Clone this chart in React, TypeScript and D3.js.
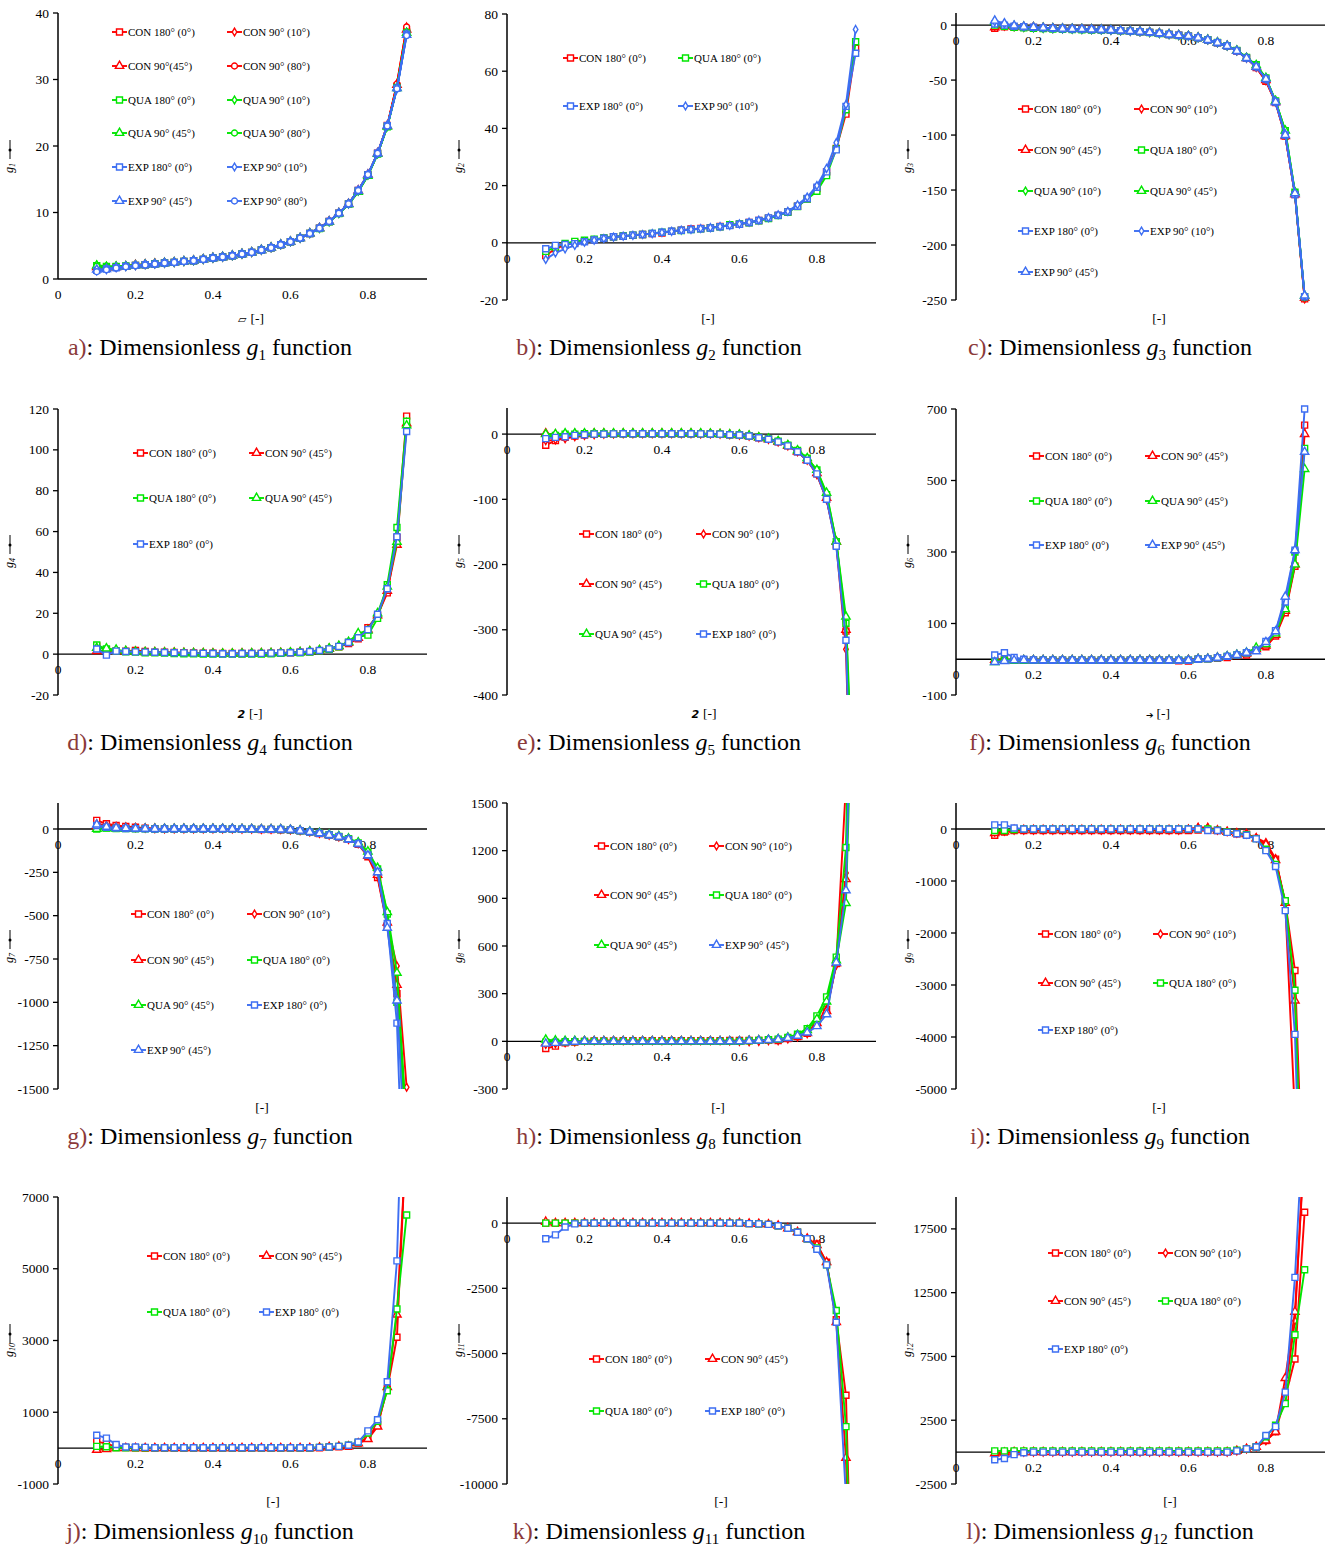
import React from 'react';
import * as d3 from 'd3';

// ---------------- DATA ----------------
const X = [0.1,0.125,0.15,0.175,0.2,0.225,0.25,0.275,0.3,0.325,0.35,0.375,0.4,0.425,0.45,0.475,0.5,0.525,0.55,0.575,0.6,0.625,0.65,0.675,0.7,0.725,0.75,0.775,0.8,0.825,0.85,0.875,0.9];
const X_TICKS = [0, 0.2, 0.4, 0.6, 0.8];
const X_TICK_LABELS = ['0', '0.2', '0.4', '0.6', '0.8'];

// g1
const G1_CON180 = [1.6,1.6,1.8,1.9,2.05,2.15,2.25, 2.4,2.5,2.65,2.75,2.95,3.15,3.3,3.5,3.75,4.0,4.35,4.7,5.15,5.6, 6.15,6.85,7.65,8.65,9.9,11.3,13.3,15.7,18.9,23.1,29.0,37.2];
const G1_CON10 = [1.7,1.7,1.8,1.95,2.05,2.2,2.3, 2.4,2.5,2.65,2.8,2.95,3.15,3.3,3.5,3.75,4.0,4.35,4.7,5.15,5.6, 6.15,6.85,7.65,8.7,9.9,11.35,13.3,15.7,18.9,23.1,29.4,37.9];
const G1_CON45 = [1.8,1.7,1.8,1.9,2.1,2.2,2.3, 2.4,2.5,2.65,2.75,2.95,3.15,3.3,3.5,3.75,4.0,4.35,4.7,5.15,5.6, 6.15,6.85,7.65,8.65,9.9,11.3,13.3,15.7,18.9,23.0,29.2,37.5];
const G1_CON80 = [1.9,1.8,1.85,1.95,2.1,2.2,2.3, 2.4,2.5,2.65,2.75,2.95,3.15,3.3,3.5,3.75,4.0,4.35,4.7,5.15,5.6, 6.15,6.85,7.65,8.65,9.9,11.3,13.3,15.7,18.9,23.0,29.3,37.9];
const G1_QUA180 = [2.0,1.9,1.9,1.95,2.05,2.15,2.3, 2.4,2.5,2.65,2.75,2.95,3.15,3.3,3.5,3.75,4.0,4.35,4.7,5.15,5.6, 6.15,6.85,7.6,8.6,9.85,11.3,13.2,15.6,18.8,22.9,28.8,37.0];
const G1_QUA10 = [2.1,1.9,1.9,1.95,2.1,2.2,2.3, 2.4,2.5,2.65,2.75,2.95,3.15,3.3,3.5,3.75,4.0,4.35,4.7,5.15,5.6, 6.15,6.85,7.6,8.6,9.85,11.3,13.2,15.6,18.8,22.9,28.8,37.1];
const G1_QUA45 = [2.0,1.8,1.85,1.9,2.05,2.15,2.25, 2.4,2.5,2.65,2.75,2.95,3.15,3.3,3.5,3.75,4.0,4.35,4.7,5.15,5.6, 6.15,6.85,7.6,8.6,9.85,11.2,13.1,15.5,18.8,22.9,28.7,37.0];
const G1_QUA80 = [1.9,1.8,1.8,1.9,2.05,2.15,2.25, 2.4,2.5,2.65,2.75,2.95,3.15,3.3,3.5,3.75,4.0,4.35,4.7,5.15,5.6, 6.15,6.85,7.6,8.6,9.85,11.3,13.2,15.6,18.8,22.9,28.8,37.1];
const G1_EXP180 = [1.3,1.5,1.7,1.9,2.05,2.15,2.25, 2.4,2.5,2.65,2.75,2.95,3.15,3.3,3.5,3.75,4.0,4.35,4.7,5.15,5.6, 6.15,6.85,7.65,8.65,9.9,11.3,13.3,15.7,18.9,23.05,28.7,36.8];
const G1_EXP10 = [1.2,1.4,1.7,1.85,2.0,2.15,2.25, 2.4,2.5,2.65,2.75,2.95,3.15,3.3,3.5,3.75,4.0,4.35,4.7,5.15,5.6, 6.15,6.85,7.65,8.65,9.9,11.3,13.3,15.7,18.9,23.05,28.6,36.9];
const G1_EXP45 = [1.4,1.5,1.75,1.9,2.05,2.15,2.25, 2.4,2.5,2.65,2.75,2.95,3.15,3.3,3.5,3.75,4.0,4.35,4.7,5.15,5.6, 6.15,6.85,7.65,8.65,9.9,11.3,13.3,15.7,18.9,23.05,28.7,36.7];
const G1_EXP80 = [1.1,1.4,1.65,1.85,2.0,2.1,2.25, 2.4,2.5,2.65,2.75,2.95,3.15,3.3,3.5,3.75,4.0,4.35,4.7,5.15,5.6, 6.15,6.85,7.65,8.65,9.9,11.3,13.3,15.7,18.9,23.0,28.6,36.6];

// g2
const G2_CON180 = [-4.5,-2.0,-0.8,0.0,0.5,1.1,1.6, 2.1,2.3,2.6,2.9,3.2,3.4,4.0,4.4,4.8,5.0,5.3,5.7,6.1,6.5, 7.1,7.8,8.6,9.6,10.8,12.8,15.4,19.0,24.8,33.0,45.0,68.0];
const G2_QUA180 = [-3.0,-1.5,-0.2,0.5,0.9,1.3,1.7, 2.1,2.4,2.7,2.9,3.3,3.7,4.0,4.3,4.6,4.9,5.2,5.6,6.3,6.6, 7.0,7.7,8.5,9.5,10.7,12.7,15.3,18.0,23.5,32.8,46.5,70.3];
const G2_EXP180 = [-2.1,-0.9,-0.6,-0.3,0.35,1.0,1.6, 2.1,2.3,2.7,2.9,3.25,3.7,4.05,4.4,4.65,4.9,5.2,5.6,6.0,6.5, 7.1,7.8,8.7,9.65,10.8,12.8,15.5,19.4,24.8,32.5,47.7,66.3];
const G2_EXP10 = [-5.8,-3.5,-2.1,-0.9,0.2,0.9,1.5, 2.0,2.3,2.6,2.9,3.2,3.6,4.0,4.4,4.7,5.0,5.3,5.7,6.1,6.6, 7.2,7.9,8.8,9.8,11.0,13.3,16.0,20.0,26.0,35.0,48.3,74.6];

// g3
const G3_CON180 = [-3,-1.5,-2,-2,-2.2,-2.6,-3, -3.3,-3.5,-3.7,-4,-4.2,-4.5,-5,-5.5,-6,-6.6,-7.5,-8.5,-9.3,-10, -11.5,-13.5,-16,-19,-23.5,-30,-38.5,-51,-70.5,-101,-154,-249];
const G3_CON10 = [-1,-1,-1.5,-1.8,-2,-2.5,-3, -3.3,-3.5,-3.7,-4,-4.2,-4.5,-5,-5.5,-6,-6.6,-7.5,-8.5,-9.3,-10, -11.5,-13.5,-16,-19,-23.5,-30,-38.5,-50.5,-70,-100,-153,-249];
const G3_CON45 = [-2,-1,-1.5,-1.8,-2,-2.5,-3, -3.3,-3.5,-3.7,-4,-4.2,-4.5,-5,-5.5,-6,-6.6,-7.5,-8.5,-9.3,-10, -11.5,-13.5,-16,-19,-23.5,-30,-38,-50,-70,-101,-154,-248];
const G3_QUA180 = [0,-1,-2,-2.5,-3,-3.2,-3.5, -3.8,-4,-4.2,-4.4,-4.6,-4.8,-5.2,-5.6,-6.1,-6.7,-7.6,-8.6,-9.4,-10, -11.5,-13.3,-15.8,-18.8,-23,-29.5,-36,-48,-69,-96,-152,-247];
const G3_QUA10 = [2,0,-1.5,-2,-2.5,-3,-3.2, -3.5,-3.7,-3.9,-4.1,-4.3,-4.6,-5,-5.5,-6,-6.6,-7.5,-8.5,-9.3,-10, -11.5,-13.4,-15.9,-18.9,-23.2,-29.7,-37,-48.5,-69.5,-97,-153,-247];
const G3_QUA45 = [3,0.5,-1,-1.8,-2.2,-2.6,-3, -3.3,-3.5,-3.7,-4,-4.2,-4.5,-5,-5.5,-6,-6.6,-7.5,-8.5,-9.3,-10, -11.5,-13.4,-15.9,-18.9,-23.2,-29.8,-36.5,-48,-69,-96,-152,-246];
const G3_EXP180 = [1,0,-1,-1.5,-2,-2.5,-3, -3.3,-3.5,-3.7,-4,-4.2,-4.5,-5,-5.5,-6,-6.6,-7.5,-8.5,-9.3,-10, -11.5,-13.5,-16,-19,-23.5,-30,-38,-49,-70,-100,-154,-247];
const G3_EXP10 = [3,1,-0.5,-1.5,-2,-2.5,-3, -3.3,-3.5,-3.7,-4,-4.2,-4.5,-5,-5.5,-6,-6.6,-7.5,-8.5,-9.3,-10, -11.5,-13.5,-16,-19,-23.5,-30,-38,-49,-70,-99,-153,-246];
const G3_EXP45 = [4,1.5,-0.5,-1.5,-2,-2.5,-3, -3.3,-3.5,-3.7,-4,-4.2,-4.5,-5,-5.5,-6,-6.6,-7.5,-8.5,-9.3,-10, -11.5,-13.5,-16,-19,-23.5,-30,-38,-49,-70,-100,-153,-246];

// g4
const G4_CON180 = [4.0,2.0,1.6,1.5,1.8,1.3,1.0, 0.9,0.8,0.7,0.6,0.5,0.5,0.3,0.3,0.3,0.4,0.4,0.5,0.6,0.7, 0.9,1.2,1.7,2.5,3.6,5.2,7.5,13.0,19.0,30.0,57.0,116.5];
const G4_CON45 = [1.5,1.8,1.5,1.3,1.2,1.0,0.9, 0.8,0.7,0.6,0.5,0.4,0.3,0.2,0.2,0.3,0.3,0.4,0.5,0.6,0.7, 0.9,1.3,1.8,2.6,3.8,5.5,8.0,12.0,19.0,31.0,53.5,113.0];
const G4_QUA180 = [4.5,2.5,1.5,1.2,1.0,0.7,0.6, 0.5,0.3,0.2,0.2,0.1,0.1,0.0,0.0,0.1,0.1,0.1,0.2,0.4,0.8, 0.7,1.0,1.6,2.4,3.6,5.8,8.5,9.3,17.5,34.0,62.0,114.0];
const G4_QUA45 = [3.0,2.8,2.2,1.5,1.2,1.0,0.8, 0.7,0.6,0.5,0.4,0.3,0.2,0.2,0.2,0.2,0.3,0.3,0.4,0.5,0.7, 0.9,1.3,1.9,2.8,4.0,6.0,10.2,11.5,20.0,33.0,55.0,112.0];
const G4_EXP180 = [2.5,-0.5,1.5,1.3,1.1,1.0,0.9, 0.8,0.7,0.6,0.5,0.4,0.3,0.2,0.2,0.3,0.3,0.4,0.5,0.6,0.7, 0.9,1.3,1.8,2.6,3.8,5.7,8.0,12.0,19.5,32.0,57.5,109.0];

// g5
const G5_CON180 = [-17,-10,-5,-3,-1.5,-0.5,0, 0.3,0.5,0.5,0.5,0.5,0.5,0.5,0.5,0.5,0.3,0.2,0,-1,-1.5, -3,-5.5,-8,-12,-18,-27,-40,-61,-100,-170,-302,-800];
const G5_CON10 = [-10,-9,-7,-4,-2,-1,0, 0.3,0.5,0.5,0.5,0.5,0.5,0.5,0.5,0.5,0.3,0.2,0,-1,-1.5, -3,-5.5,-8,-12,-18,-27,-40,-62,-100,-168,-330,-850];
const G5_CON45 = [1,-1,-1,0,0,0.5,0.5, 0.3,0.5,0.5,0.5,0.5,0.5,0.5,0.5,0.5,0.3,0.2,0,-1,-1.5, -3,-5.5,-8,-12,-18,-27,-40,-60,-98,-165,-300,-780];
const G5_QUA180 = [-4,-2,0,0,0.5,0.5,0.5, 0.3,0.5,0.5,0.5,0.5,0.5,0.5,0.5,0.5,0.3,0.2,0,-1,-1.5, -3,-5,-7.5,-11,-17,-25,-37,-55,-93,-165,-290,-700];
const G5_QUA45 = [0,0,1,1,1,1,1, 1,1,1,1,1,1,1,1,1,1,0.5,0,-0.5,-1, -2.5,-5,-7,-11,-17,-25,-37,-55,-90,-165,-280,-650];
const G5_EXP180 = [-7,-5,-4,-2,-1,0,0, 0.3,0.5,0.5,0.5,0.5,0.5,0.5,0.5,0.5,0.3,0.2,0,-1,-1.5, -3,-5.5,-8,-12,-18,-27,-40,-61,-100,-172,-316,-850];

// g6
const G6_CON180 = [0,-2,-3,-2,-3,-3,-3, -3,-3,-3,-3,-3,-3,-3,-3,-3,-2,-3,-3,-4,-5, 0,1,3,5,10,12,25,35,65,130,260,655];
const G6_CON45 = [-2,-2,-3,-3,-3,-3,-3, -3,-3,-3,-3,-3,-3,-3,-3,-3,-3,-3,-3,-3,-2, 0,1,4,7,11,16,28,38,68,135,265,630];
const G6_QUA180 = [-5,-3,-3,-3,-3,-3,-3, -3,-3,-3,-3,-3,-3,-3,-3,-3,-3,-3,-3,-3,-3, 0,1,4,8,12,18,25,45,78,145,300,590];
const G6_QUA45 = [-8,-2,-3,-3,-3,-3,-3, -3,-3,-3,-3,-3,-3,-3,-3,-3,-3,-3,-3,-3,-3, 0,1,4,8,12,18,32,42,72,140,265,532];
const G6_EXP180 = [12,18,5,0,-2,-3,-3, -3,-3,-3,-3,-3,-3,-3,-3,-3,-3,-3,-3,-3,-3, 0,1,4,8,12,18,25,50,80,160,305,700];
const G6_EXP45 = [-8,-5,-3,-3,-3,-3,-3, -3,-3,-3,-3,-3,-3,-3,-3,-3,-3,-3,-3,-3,-3, 0,1,4,8,12,18,22,48,78,175,305,580];

// g7
const G7_CON180 = [50,30,20,15,10,5,2, 0,-1,-1,-1,-1,-1,-1,-1,-2,-2,-3,-3,-4,-6, -11,-18,-26,-36,-46,-60,-88,-160,-280,-560,-950,-1700];
const G7_CON10 = [30,20,15,12,8,5,2, 1,0,0,0,0,0,0,0,-1,-1,-2,-2,-3,-5, -10,-17,-25,-35,-46,-60,-85,-150,-270,-550,-790,-1490];
const G7_CON45 = [15,10,6,4,3,2,1, 0,0,0,0,0,0,0,0,-1,-1,-2,-2,-3,-5, -10,-17,-25,-35,-45,-60,-85,-155,-265,-540,-900,-1800];
const G7_QUA180 = [0,5,3,2,1,1,0, 0,0,0,0,0,0,0,0,-1,-1,-2,-2,-3,-5, -10,-16,-24,-33,-43,-56,-80,-135,-230,-490,-1000,-1750];
const G7_QUA45 = [0,3,2,1,1,0,0, 0,0,0,0,0,0,0,0,-1,-1,-2,-2,-3,-5, -9,-15,-23,-32,-42,-55,-78,-130,-225,-480,-830,-1710];
const G7_EXP180 = [20,10,5,3,2,1,0, 0,0,0,0,0,0,0,0,-1,-1,-2,-2,-3,-5, -10,-17,-25,-35,-45,-60,-85,-150,-245,-545,-1120,-2700];
const G7_EXP45 = [25,12,6,4,2,1,0, 0,0,0,0,0,0,0,0,-1,-1,-2,-2,-3,-5, -10,-17,-25,-35,-45,-60,-86,-152,-250,-570,-990,-2050];

// g8
const G8_CON180 = [-45,-30,-10,-5,0,2,3, 3,4,4,4,4,4,4,4,4,4,4,4,5,5, 5,6,8,5,18,30,50,120,200,490,1620,5000];
const G8_CON10 = [-20,-15,-8,-3,5,5,5, 5,5,5,5,5,5,5,5,5,5,5,4,2,0, -2,0,5,5,15,28,48,110,200,480,1060,3500];
const G8_CON45 = [-10,-8,-5,-2,0,0,0, 0,0,0,0,0,0,0,0,0,0,0,0,0,0, 2,5,8,10,18,30,52,115,190,490,1020,3200];
const G8_QUA180 = [-5,-5,-3,-2,0,0,0, 0,0,0,0,0,0,0,0,0,0,0,0,0,0, 3,6,10,14,25,45,80,160,280,530,1220,4200];
const G8_QUA45 = [10,5,3,2,1,0,0, 0,0,0,0,0,0,0,0,0,0,0,0,0,0, 2,5,9,13,24,40,70,140,250,510,870,3000];
const G8_EXP45 = [-15,-10,-7,-3,0,0,0, 0,0,0,0,0,0,0,0,0,0,0,0,0,0, 2,5,8,12,20,35,55,95,170,496,950,3500];

// g9
const G9_CON180 = [-120,-60,-30,-30,-30,-30,-30, -30,-30,-30,-30,-30,-30,-30,-30,-30,-30,-30,-30,-30,-30, -20,-20,-30,-60,-90,-100,-180,-320,-580,-1400,-2720,-8000];
const G9_CON10 = [-60,-40,-20,-20,-20,-20,-20, -20,-20,-20,-20,-20,-20,-20,-20,-20,-20,-20,-20,-20,0, 30,30,-20,-50,-80,-100,-170,-260,-570,-1450,-5500,-12000];
const G9_CON45 = [-80,-50,-20,-20,-20,-20,-20, -20,-20,-20,-20,-20,-20,-20,-20,-20,-20,-20,-20,-20,-20, 10,10,-30,-55,-85,-100,-180,-300,-600,-1420,-3300,-9000];
const G9_QUA180 = [-30,-30,-10,0,0,0,0, 0,0,0,0,0,0,0,0,0,0,0,0,0,0, 0,0,-25,-55,-85,-110,-185,-390,-680,-1380,-3100,-9000];
const G9_EXP180 = [80,80,20,0,0,0,0, 0,0,0,0,0,0,0,0,0,0,0,0,0,0, 0,-30,-30,-64,-90,-120,-190,-415,-720,-1570,-3950,-10000];

// g10
const G10_CON180 = [190,120,50,20,10,5,0, 0,0,0,0,0,0,0,0,0,0,0,0,0,0, 0,0,10,25,40,50,140,300,650,1650,3090,9000];
const G10_CON45 = [-50,-30,0,0,0,0,0, 0,0,0,0,0,0,0,0,0,0,0,0,0,0, 0,0,10,25,40,50,130,250,600,1700,3720,8800];
const G10_QUA180 = [50,40,10,10,10,10,10, 10,10,10,10,10,10,10,10,10,10,10,10,10,10, 10,10,20,30,50,80,160,420,750,1600,3880,6500];
const G10_EXP180 = [360,280,100,30,30,20,10, 10,10,10,10,10,10,10,10,10,10,10,10,10,10, 10,10,20,30,50,80,170,480,790,1850,5220,14000];

// g11
const G11_CON180 = [0,0,0,0,0,0,0, 0,0,0,0,0,0,0,0,0,0,0,0,0,0, -20,-30,-50,-100,-200,-350,-600,-800,-1500,-3700,-6600,-20000];
const G11_CON45 = [50,0,0,0,0,0,0, 0,0,0,0,0,0,0,0,0,0,0,0,0,0, -20,-30,-50,-100,-200,-350,-600,-850,-1500,-3800,-9000,-22000];
const G11_QUA180 = [0,0,0,0,0,0,0, 0,0,0,0,0,0,0,0,0,0,0,0,0,0, -20,-30,-50,-100,-200,-350,-600,-950,-1600,-3350,-7800,-20000];
const G11_EXP180 = [-600,-450,-150,-30,0,0,0, 0,0,0,0,0,0,0,0,0,0,0,0,0,0, -20,-30,-50,-100,-200,-350,-600,-1000,-1600,-3800,-10500,-25000];

// g12
const G12_CON180 = [-100,0,0,0,0,0,0, 0,0,0,0,0,0,0,0,0,0,0,0,0,0, 0,0,0,0,100,250,400,900,1600,4300,7300,18800];
const G12_CON10 = [-200,-100,0,0,0,0,0, 0,0,0,0,0,0,0,0,0,0,0,0,0,0, 0,0,0,0,100,250,400,900,1700,4800,10300,25000];
const G12_CON45 = [-100,-50,0,0,0,0,0, 0,0,0,0,0,0,0,0,0,0,0,0,0,0, 0,0,0,0,100,250,400,900,1600,5800,11000,24000];
const G12_QUA180 = [100,100,100,100,100,100,100, 100,100,100,100,100,100,100,100,100,100,100,100,100,100, 100,100,100,100,150,250,400,1200,2100,3800,9200,14300];
const G12_EXP180 = [-600,-500,-200,-50,0,0,0, 0,0,0,0,0,0,0,0,0,0,0,0,0,0, 0,0,0,0,100,250,400,1300,2000,4700,13700,28000];

// labels
const CON180 = 'CON 180° (0°)', CON10 = 'CON 90° (10°)', CON45 = 'CON 90° (45°)', CON80 = 'CON 90° (80°)';
const QUA180 = 'QUA 180° (0°)', QUA10 = 'QUA 90° (10°)', QUA45 = 'QUA 90° (45°)', QUA80 = 'QUA 90° (80°)';
const EXP180 = 'EXP 180° (0°)', EXP10 = 'EXP 90° (10°)', EXP45 = 'EXP 90° (45°)', EXP80 = 'EXP 90° (80°)';

// ---------------- LAYOUT / STYLE ----------------
const RED = '#ff0000';
const GREEN = '#00e600';
const BLUE = '#3d6ef2';
const SERIF = "'Liberation Serif','Times New Roman',Times,serif";
const COLS = [58, 507, 956];
const PLOT_W = 368;
const ROW_XTITLE = [323, 718, 1112, 1506];
const ROW_CAPTION = [355, 750, 1144, 1539];
const ROW_YLABEL = [157, 552, 947, 1341];
const COL_CAPTION = [210, 659, 1110];

type S = { name: string; values: number[] };
type Cfg = {
  letter: string; sub: string; col: number; row: number; top: number; bottom: number;
  yDomain: [number, number]; yTicks: number[]; xGlyph?: string; xTitleX: number;
  legendX: [number, number]; legendY: number[]; series: S[];
};

const PANELS: Cfg[] = [
  { letter: 'a', sub: '1', col: 0, row: 0, top: 13, bottom: 279, yDomain: [0, 40], yTicks: [0, 10, 20, 30, 40], xGlyph: '▱', xTitleX: 251,
    legendX: [112, 227], legendY: [32, 66, 100, 133, 167, 201],
    series: [
      { name: CON180, values: G1_CON180 }, { name: CON10, values: G1_CON10 },
      { name: 'CON 90°(45°)', values: G1_CON45 }, { name: CON80, values: G1_CON80 },
      { name: QUA180, values: G1_QUA180 }, { name: QUA10, values: G1_QUA10 },
      { name: QUA45, values: G1_QUA45 }, { name: QUA80, values: G1_QUA80 },
      { name: EXP180, values: G1_EXP180 }, { name: EXP10, values: G1_EXP10 },
      { name: EXP45, values: G1_EXP45 }, { name: EXP80, values: G1_EXP80 },
    ] },
  { letter: 'b', sub: '2', col: 1, row: 0, top: 14, bottom: 300, yDomain: [-20, 80], yTicks: [-20, 0, 20, 40, 60, 80], xTitleX: 708,
    legendX: [563, 678], legendY: [58, 106],
    series: [
      { name: CON180, values: G2_CON180 }, { name: QUA180, values: G2_QUA180 },
      { name: EXP180, values: G2_EXP180 }, { name: EXP10, values: G2_EXP10 },
    ] },
  { letter: 'c', sub: '3', col: 2, row: 0, top: 13, bottom: 300, yDomain: [-250, 11], yTicks: [-250, -200, -150, -100, -50, 0], xTitleX: 1159,
    legendX: [1018, 1134], legendY: [109, 150, 191, 231, 272],
    series: [
      { name: CON180, values: G3_CON180 }, { name: CON10, values: G3_CON10 },
      { name: CON45, values: G3_CON45 }, { name: QUA180, values: G3_QUA180 },
      { name: QUA10, values: G3_QUA10 }, { name: QUA45, values: G3_QUA45 },
      { name: EXP180, values: G3_EXP180 }, { name: EXP10, values: G3_EXP10 },
      { name: EXP45, values: G3_EXP45 },
    ] },
  { letter: 'd', sub: '4', col: 0, row: 1, top: 409, bottom: 695, yDomain: [-20, 120], yTicks: [-20, 0, 20, 40, 60, 80, 100, 120], xGlyph: '2', xTitleX: 250,
    legendX: [133, 249], legendY: [453, 498, 544],
    series: [
      { name: CON180, values: G4_CON180 }, { name: CON45, values: G4_CON45 },
      { name: QUA180, values: G4_QUA180 }, { name: QUA45, values: G4_QUA45 },
      { name: EXP180, values: G4_EXP180 },
    ] },
  { letter: 'e', sub: '5', col: 1, row: 1, top: 408, bottom: 695, yDomain: [-400, 40], yTicks: [-400, -300, -200, -100, 0], xGlyph: '2', xTitleX: 704,
    legendX: [579, 696], legendY: [534, 584, 634],
    series: [
      { name: CON180, values: G5_CON180 }, { name: CON10, values: G5_CON10 },
      { name: CON45, values: G5_CON45 }, { name: QUA180, values: G5_QUA180 },
      { name: QUA45, values: G5_QUA45 }, { name: EXP180, values: G5_EXP180 },
    ] },
  { letter: 'f', sub: '6', col: 2, row: 1, top: 409, bottom: 695, yDomain: [-100, 700], yTicks: [-100, 100, 300, 500, 700], xGlyph: '➔', xTitleX: 1158,
    legendX: [1029, 1145], legendY: [456, 501, 545],
    series: [
      { name: CON180, values: G6_CON180 }, { name: CON45, values: G6_CON45 },
      { name: QUA180, values: G6_QUA180 }, { name: QUA45, values: G6_QUA45 },
      { name: EXP180, values: G6_EXP180 }, { name: EXP45, values: G6_EXP45 },
    ] },
  { letter: 'g', sub: '7', col: 0, row: 2, top: 803, bottom: 1089, yDomain: [-1500, 150], yTicks: [-1500, -1250, -1000, -750, -500, -250, 0], xTitleX: 262,
    legendX: [131, 247], legendY: [914, 960, 1005, 1050],
    series: [
      { name: CON180, values: G7_CON180 }, { name: CON10, values: G7_CON10 },
      { name: CON45, values: G7_CON45 }, { name: QUA180, values: G7_QUA180 },
      { name: QUA45, values: G7_QUA45 }, { name: EXP180, values: G7_EXP180 },
      { name: EXP45, values: G7_EXP45 },
    ] },
  { letter: 'h', sub: '8', col: 1, row: 2, top: 803, bottom: 1089, yDomain: [-300, 1500], yTicks: [-300, 0, 300, 600, 900, 1200, 1500], xTitleX: 718,
    legendX: [594, 709], legendY: [846, 895, 945],
    series: [
      { name: CON180, values: G8_CON180 }, { name: CON10, values: G8_CON10 },
      { name: CON45, values: G8_CON45 }, { name: QUA180, values: G8_QUA180 },
      { name: QUA45, values: G8_QUA45 }, { name: EXP45, values: G8_EXP45 },
    ] },
  { letter: 'i', sub: '9', col: 2, row: 2, top: 803, bottom: 1089, yDomain: [-5000, 500], yTicks: [-5000, -4000, -3000, -2000, -1000, 0], xTitleX: 1159,
    legendX: [1038, 1153], legendY: [934, 983, 1030],
    series: [
      { name: CON180, values: G9_CON180 }, { name: CON10, values: G9_CON10 },
      { name: CON45, values: G9_CON45 }, { name: QUA180, values: G9_QUA180 },
      { name: EXP180, values: G9_EXP180 },
    ] },
  { letter: 'j', sub: '10', col: 0, row: 3, top: 1197, bottom: 1484, yDomain: [-1000, 7000], yTicks: [-1000, 1000, 3000, 5000, 7000], xTitleX: 273,
    legendX: [147, 259], legendY: [1256, 1312],
    series: [
      { name: CON180, values: G10_CON180 }, { name: CON45, values: G10_CON45 },
      { name: QUA180, values: G10_QUA180 }, { name: EXP180, values: G10_EXP180 },
    ] },
  { letter: 'k', sub: '11', col: 1, row: 3, top: 1197, bottom: 1484, yDomain: [-10000, 1000], yTicks: [-10000, -7500, -5000, -2500, 0], xTitleX: 721,
    legendX: [589, 705], legendY: [1359, 1411],
    series: [
      { name: CON180, values: G11_CON180 }, { name: CON45, values: G11_CON45 },
      { name: QUA180, values: G11_QUA180 }, { name: EXP180, values: G11_EXP180 },
    ] },
  { letter: 'l', sub: '12', col: 2, row: 3, top: 1197, bottom: 1484, yDomain: [-2500, 20000], yTicks: [-2500, 2500, 7500, 12500, 17500], xTitleX: 1170,
    legendX: [1048, 1158], legendY: [1253, 1301, 1349],
    series: [
      { name: CON180, values: G12_CON180 }, { name: CON10, values: G12_CON10 },
      { name: CON45, values: G12_CON45 }, { name: QUA180, values: G12_QUA180 },
      { name: EXP180, values: G12_EXP180 },
    ] },
];

function styleFor(name: string) {
  const color = name.startsWith('CON') ? RED : name.startsWith('QUA') ? GREEN : BLUE;
  const marker = name.includes('180') ? 'square' : name.includes('(10') ? 'diamond' : name.includes('45') ? 'triangle' : 'circle';
  return { color, marker };
}

const SYMBOLS: Record<string, any> = {
  square: [d3.symbolSquare, 36],
  diamond: [d3.symbolDiamond, 18],
  triangle: [d3.symbolTriangle, 30],
  circle: [d3.symbolCircle, 28],
};

function Marker({ type, x, y, color }: { type: string; x: number; y: number; color: string }) {
  const [sym, size] = SYMBOLS[type];
  const d = d3.symbol(sym, size)() as string;
  return <path d={d} transform={`translate(${x},${y})`} fill="#fff" stroke={color} strokeWidth={1.4} />;
}

function Panel({ cfg }: { cfg: Cfg }) {
  const ax = COLS[cfg.col];
  const x = d3.scaleLinear().domain([0, 0.95]).range([ax, ax + PLOT_W]);
  const y = d3.scaleLinear().domain(cfg.yDomain).range([cfg.bottom, cfg.top]);
  const y0 = y(0);
  const clipId = `clip-${cfg.letter}`;
  const mClipId = `mclip-${cfg.letter}`;
  const line = d3.line<[number, number]>().x((d) => x(d[0])).y((d) => y(d[1]));
  const [lo, hi] = cfg.yDomain;
  const tol = (hi - lo) * 0.012;
  return (
    <g>
      <defs>
        <clipPath id={clipId}><rect x={ax} y={cfg.top} width={PLOT_W + 2} height={cfg.bottom - cfg.top} /></clipPath>
        <clipPath id={mClipId}><rect x={ax - 5} y={cfg.top - 5} width={PLOT_W + 12} height={cfg.bottom - cfg.top + 10} /></clipPath>
      </defs>
      {/* x tick labels (under the axes) */}
      {X_TICKS.map((t, i) => (
        <text key={t} x={x(t)} y={y0 + 20} textAnchor="middle" fontFamily={SERIF} fontSize={13.5} fill="#000">{X_TICK_LABELS[i]}</text>
      ))}
      {/* y axis */}
      <line x1={ax} x2={ax} y1={cfg.top} y2={cfg.bottom} stroke="#000" strokeWidth={1.5} />
      {cfg.yTicks.map((t) => (
        <g key={t}>
          <line x1={ax - 5} x2={ax} y1={y(t)} y2={y(t)} stroke="#000" strokeWidth={1.3} />
          <text x={ax - 9} y={y(t)} dy="0.34em" textAnchor="end" fontFamily={SERIF} fontSize={13.5} fill="#000">{t}</text>
        </g>
      ))}
      {/* x axis */}
      <line x1={ax} x2={ax + PLOT_W + 1} y1={y0} y2={y0} stroke="#000" strokeWidth={1.3} />
      {/* series */}
      {cfg.series.map((s) => {
        const st = styleFor(s.name);
        const pts: [number, number][] = X.map((xv, i) => [xv, s.values[i]] as [number, number]).filter((p) => p[1] !== undefined);
        return (
          <g key={s.name}>
            <path d={line(pts) as string} fill="none" stroke={st.color} strokeWidth={1.9} clipPath={`url(#${clipId})`} />
            <g clipPath={`url(#${mClipId})`}>
              {pts.filter((p) => p[1] >= lo - tol && p[1] <= hi + tol).map((p, i) => (
                <Marker key={i} type={st.marker} x={x(p[0])} y={y(p[1])} color={st.color} />
              ))}
            </g>
          </g>
        );
      })}
      {/* legend */}
      {cfg.series.map((s, i) => {
        const st = styleFor(s.name);
        const lx = cfg.legendX[i % 2];
        const ly = cfg.legendY[Math.floor(i / 2)];
        return (
          <g key={'lg' + s.name}>
            <line x1={lx} x2={lx + 15} y1={ly} y2={ly} stroke={st.color} strokeWidth={1.9} />
            <Marker type={st.marker} x={lx + 7.5} y={ly} color={st.color} />
            <text x={lx + 16} y={ly} dy="0.34em" fontFamily={SERIF} fontSize={11} fill="#000">{s.name}</text>
          </g>
        );
      })}
      {/* y label */}
      <g transform={`translate(${ax - 47},${ROW_YLABEL[cfg.row]}) rotate(-90)`}>
        <text x={-16} y={2} fontFamily={SERIF} fontSize={12} fontStyle="italic" fill="#000">g<tspan fontSize={8} dy={2}>{cfg.sub}</tspan></text>
        <line x1={-2} x2={17} y1={-1} y2={-1} stroke="#000" strokeWidth={1} />
        <circle cx={7} cy={-1} r={1.5} fill="#000" />
      </g>
      {/* x title */}
      <text x={cfg.xTitleX} y={ROW_XTITLE[cfg.row]} textAnchor="middle" fontFamily={SERIF} fontSize={13.5} fill="#000">
        {cfg.xGlyph ? (
          <tspan fontFamily="'DejaVu Sans',sans-serif" fontWeight="bold" fontStyle="italic" fontSize={cfg.xGlyph === '➔' ? 9 : 11}>{cfg.xGlyph} </tspan>
        ) : null}
        [-]
      </text>
      {/* caption */}
      <text x={COL_CAPTION[cfg.col]} y={ROW_CAPTION[cfg.row]} textAnchor="middle" fontFamily={SERIF} fontSize={24} fill="#000">
        <tspan fill="#8b3a3a">{cfg.letter})</tspan>
        <tspan>: Dimensionless </tspan>
        <tspan fontStyle="italic">g</tspan>
        <tspan fontSize={15} dy={5}>{cfg.sub}</tspan>
        <tspan dy={-5}> function</tspan>
      </text>
    </g>
  );
}

export default function App() {
  return (
    <svg width={1331} height={1546} viewBox="0 0 1331 1546" style={{ position: 'absolute', left: 0, top: 0, background: '#fff' }}>
      <rect x={0} y={0} width={1331} height={1546} fill="#fff" />
      {PANELS.map((p) => <Panel key={p.letter} cfg={p} />)}
    </svg>
  );
}
